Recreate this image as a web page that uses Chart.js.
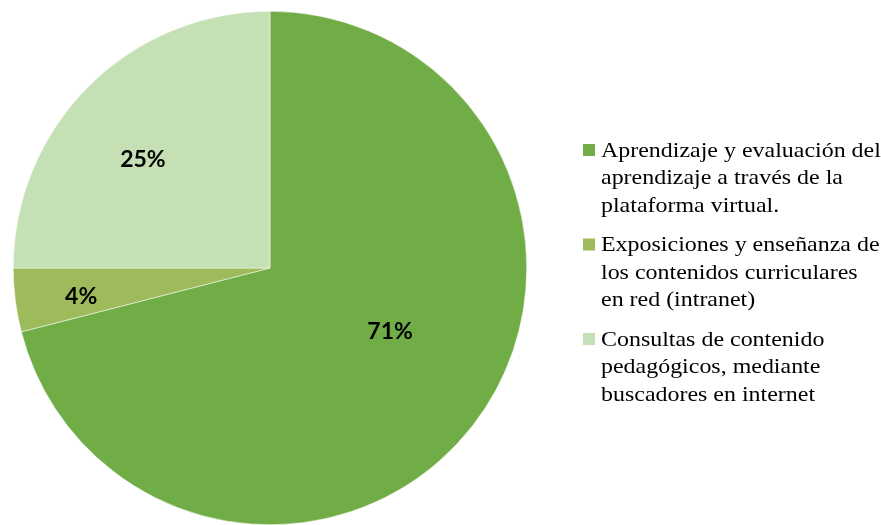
<!DOCTYPE html>
<html>
<head>
<meta charset="utf-8">
<script src="https://cdn.jsdelivr.net/npm/chart.js@4/dist/chart.umd.min.js"></script>
<style>
  html, body { margin: 0; padding: 0; background: #fff; overflow: hidden; }
  #wrap { position: relative; width: 881px; height: 535px; }
</style>
</head>
<body>
<div id="wrap"><canvas id="chart"></canvas></div>
<script>
const categories = [
  ['Aprendizaje y evaluación del', 'aprendizaje a través de la', 'plataforma virtual.'],
  ['Exposiciones y enseñanza de', 'los contenidos curriculares', 'en red (intranet)'],
  ['Consultas de contenido', 'pedagógicos, mediante', 'buscadores en internet']
];
const values = [71, 4, 25];
const colors = ['#70AD47', '#9DBB5A', '#C5E0B4'];

// percent labels placed along each slice's mid angle
const sliceLabels = {
  id: 'sliceLabels',
  afterDatasetsDraw(chart, args, opts) {
    const ctx = chart.ctx;
    const meta = chart.getDatasetMeta(0);
    const total = values.reduce((a, b) => a + b, 0);
    ctx.save();
    ctx.font = 'bold 23px Lato, "Open Sans", sans-serif';
    ctx.fillStyle = '#000';
    ctx.textAlign = 'center';
    ctx.textBaseline = 'middle';
    meta.data.forEach((arc, i) => {
      const p = arc.getProps(['x', 'y', 'startAngle', 'endAngle', 'outerRadius'], true);
      const mid = (p.startAngle + p.endAngle) / 2 + (opts.angleShift[i] || 0);
      const r = p.outerRadius * opts.radial[i];
      const pct = Math.round(values[i] / total * 100) + '%';
      ctx.fillText(pct, p.x + Math.cos(mid) * r, p.y + Math.sin(mid) * r);
    });
    ctx.restore();
  }
};

// legend on the right with wrapped lines
const sideLegend = {
  id: 'sideLegend',
  afterDraw(chart, args, opts) {
    const ctx = chart.ctx;
    const area = chart.chartArea;
    const lineH = 27.5, gap = 12, box = 12;
    const heights = categories.map(c => c.length * lineH);
    const totalH = heights.reduce((a, b) => a + b, 0) + gap * (categories.length - 1);
    const cy = (area.top + area.bottom) / 2 + opts.dy;
    let y = cy - totalH / 2 + lineH / 2;
    const x = area.right + opts.offset;
    ctx.save();
    ctx.font = '21px "Liberation Serif", "Times New Roman", serif';
    ctx.textBaseline = 'middle';
    ctx.textAlign = 'left';
    categories.forEach((lines, i) => {
      ctx.fillStyle = colors[i];
      ctx.fillRect(x, y - box / 2 - 1, box, box);
      ctx.fillStyle = '#000';
      lines.forEach((t, j) => {
        ctx.save();
        ctx.translate(x + box + 6, y + j * lineH);
        ctx.scale(opts.stretch, 1);
        ctx.fillText(t, 0, 0);
        ctx.restore();
      });
      y += lines.length * lineH + gap;
    });
    ctx.restore();
  }
};

new Chart(document.getElementById('chart'), {
  type: 'pie',
  data: {
    labels: categories.map(c => c.join(' ')),
    datasets: [{
      data: values,
      backgroundColor: colors,
      borderColor: '#ffffff',
      borderWidth: 0.5
    }]
  },
  options: {
    responsive: true,
    maintainAspectRatio: false,
    animation: false,
    layout: { padding: { left: 13, right: 354, top: 11, bottom: 10 } },
    plugins: {
      legend: { display: false },
      tooltip: { enabled: false },
      sliceLabels: { radial: [0.53, 0.744, 0.65], angleShift: [-0.17, -0.026, -0.08] },
      sideLegend: { offset: 56, dy: 5, stretch: 1.14 }
    }
  },
  plugins: [sliceLabels, sideLegend]
});
</script>
</body>
</html>
